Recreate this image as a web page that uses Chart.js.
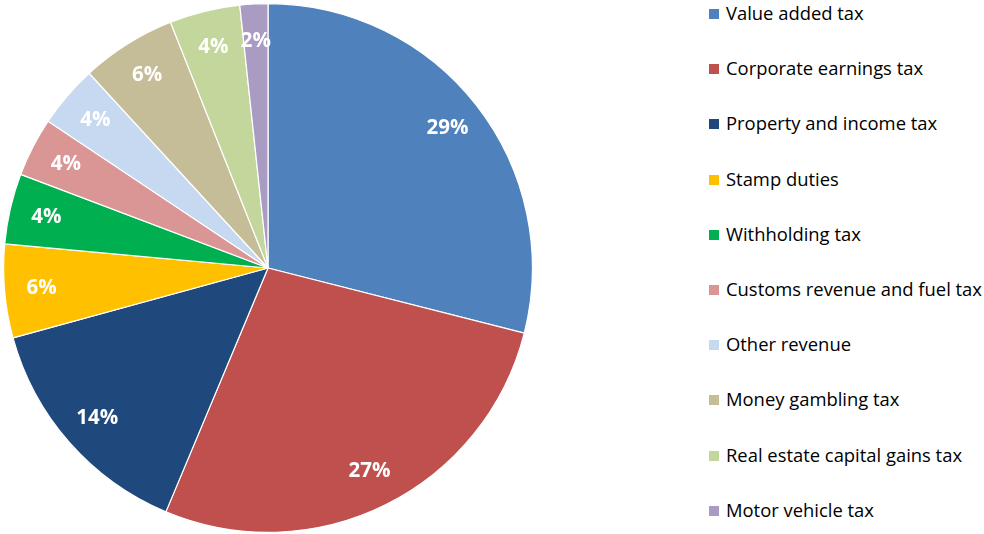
<!DOCTYPE html>
<html>
<head>
<meta charset="utf-8">
<script src="https://cdn.jsdelivr.net/npm/chart.js@4.4.0/dist/chart.umd.min.js"></script>
<style>
  html, body { margin: 0; padding: 0; background: #fff; }
  #wrap { position: relative; width: 984px; height: 534px; overflow: hidden; }
  #pieBox { position: absolute; left: 0; top: 0; width: 536px; height: 534px; }
  #legend { position: absolute; left: 709px; top: 0; font-family: "Open Sans", sans-serif; font-size: 18.4px; color: #000; }
  .item { position: absolute; left: 0; white-space: nowrap; height: 20px; line-height: 20px; }
  .sw { position: absolute; left: 0; top: 5px; width: 10px; height: 10px; }
  .txt { position: absolute; left: 17px; top: -1px; }
</style>
</head>
<body>
<div id="wrap">
  <div id="pieBox"><canvas id="pie"></canvas></div>
  <div id="legend"></div>
</div>
<script>
const categories = [
  'Value added tax', 'Corporate earnings tax', 'Property and income tax', 'Stamp duties',
  'Withholding tax', 'Customs revenue and fuel tax', 'Other revenue', 'Money gambling tax',
  'Real estate capital gains tax', 'Motor vehicle tax'
];
const shares = [28.9, 27.3, 14.4, 5.7, 4.3, 3.6, 3.8, 5.8, 4.3, 1.7];
const colors = ['#4F81BD', '#C0504D', '#1F497D', '#FFC000', '#00B050',
                '#D99694', '#C6D9F1', '#C4BD97', '#C3D69B', '#A99BC1'];

// legend (html, right side)
const legend = document.getElementById('legend');
categories.forEach((name, i) => {
  const row = document.createElement('div');
  row.className = 'item';
  row.style.top = (4 + i * 55.2) + 'px';
  row.innerHTML = '<span class="sw" style="background:' + colors[i] + '"></span><span class="txt">' + name + '</span>';
  legend.appendChild(row);
});

// percentage labels inside slices
const sliceLabels = {
  id: 'sliceLabels',
  afterDatasetsDraw(chart) {
    const ctx = chart.ctx;
    const meta = chart.getDatasetMeta(0);
    const total = shares.reduce((a, b) => a + b, 0);
    ctx.save();
    ctx.fillStyle = '#fff';
    ctx.font = 'bold 20.5px "Open Sans", sans-serif';
    ctx.textAlign = 'center';
    ctx.textBaseline = 'middle';
    meta.data.forEach((arc, i) => {
      const mid = (arc.startAngle + arc.endAngle) / 2;
      const r = arc.outerRadius * 0.86;
      const x = arc.x + Math.cos(mid) * r;
      const y = arc.y + Math.sin(mid) * r;
      ctx.fillText(Math.round(shares[i] / total * 100) + '%', x, y);
    });
    ctx.restore();
  }
};

new Chart(document.getElementById('pie'), {
  type: 'pie',
  data: {
    labels: categories,
    datasets: [{
      data: shares,
      backgroundColor: colors,
      borderColor: '#fff',
      borderWidth: 1.2
    }]
  },
  options: {
    responsive: true,
    maintainAspectRatio: false,
    animation: false,
    layout: { padding: { top: 3, bottom: 1, left: 3, right: 3 } },
    plugins: {
      legend: { display: false },
      tooltip: { enabled: false }
    }
  },
  plugins: [sliceLabels]
});
</script>
</body>
</html>
